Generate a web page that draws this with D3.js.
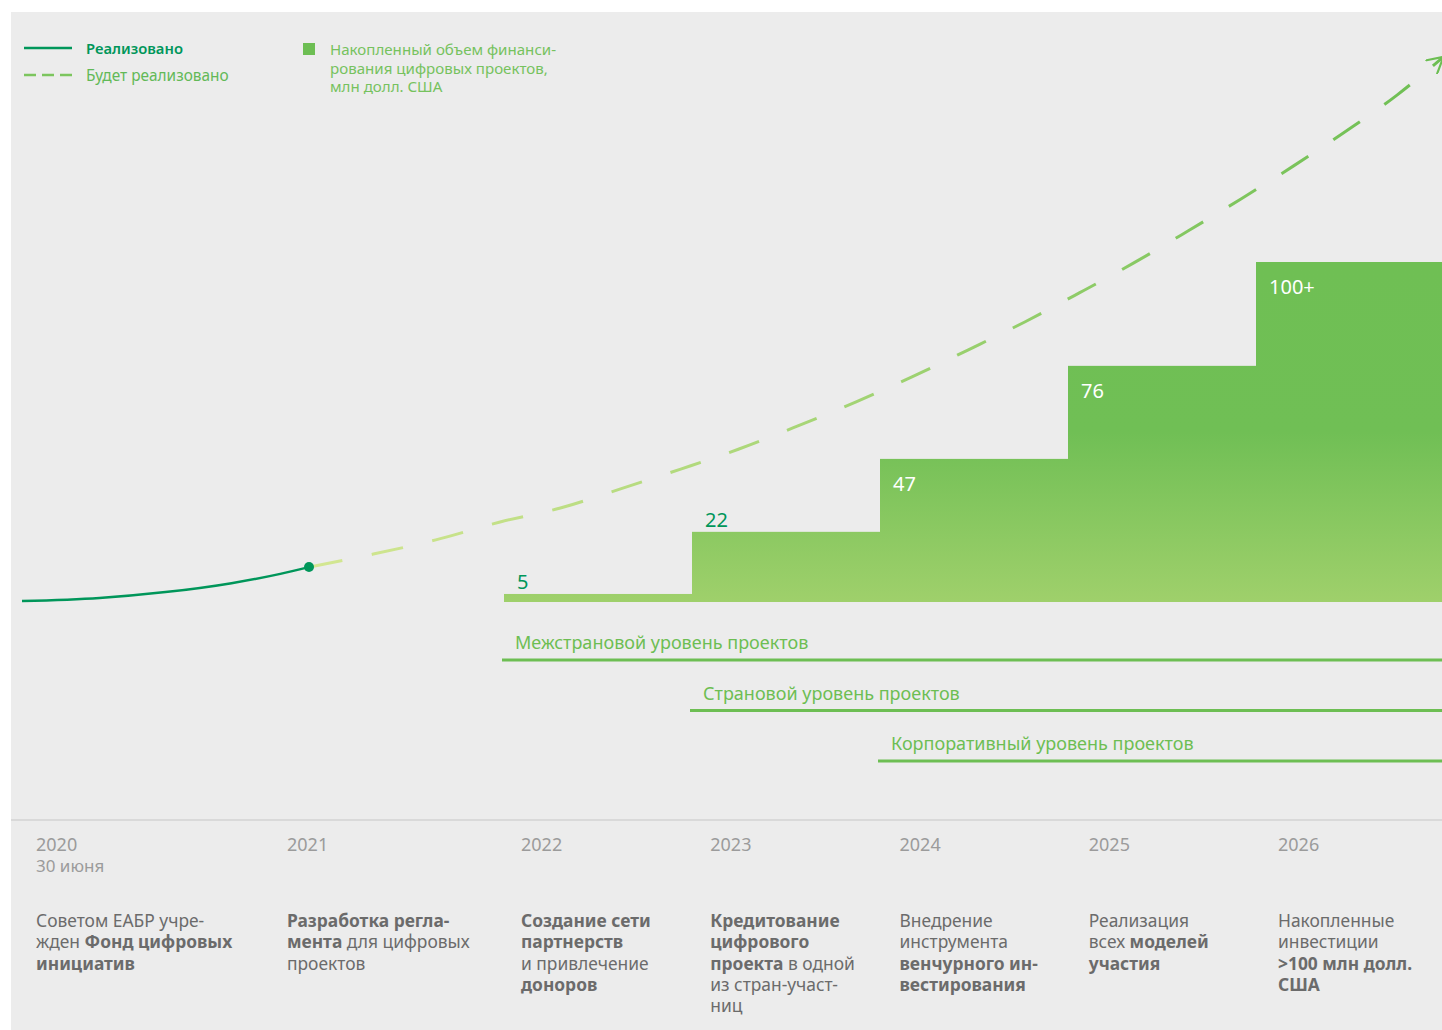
<!DOCTYPE html>
<html>
<head>
<meta charset="utf-8">
<script src="https://cdn.jsdelivr.net/npm/d3@7"></script>
<style>
  body { margin: 0; background: #ffffff; }
  svg text { font-family: "Noto Sans", sans-serif; }
</style>
</head>
<body>
<div id="my_dataviz"></div>
<script>

// data
var barYears  = [2022, 2023, 2024, 2025, 2026];
var barValues = [2.6, 22.7, 46.3, 76.4, 110];
var barLabels = ["5", "22", "47", "76", "100+"];

// realized part of the trend (year, value)
var doneYears  = [2020, 2020.27, 2020.5, 2020.73, 2020.9, 2021];
var doneValues = [0.3, 1.3, 3.2, 6.1, 9.1, 11.3];

// planned part of the trend
var planYears  = [2021, 2021.33, 2021.65, 2021.98, 2022.3, 2022.62, 2022.94, 2023.25, 2023.56, 2023.87,
                  2024.17, 2024.47, 2024.77, 2025.06, 2025.35, 2025.64, 2025.92, 2026.2, 2026.48, 2026.75, 2026.99];
var planValues = [11.3, 15.5, 20.1, 25.9, 30.4, 36.6, 43.0, 49.5, 56.9, 64.7,
                  72.8, 81.6, 90.6, 100.0, 109.7, 120.1, 130.4, 141.1, 152.4, 164.0, 176.0];

// project levels
var levelNames  = ["Межстрановой уровень проектов", "Страновой уровень проектов", "Корпоративный уровень проектов"];
var levelStarts = [2022, 2023, 2024];

// timeline columns
var stageYears = ["2020", "2021", "2022", "2023", "2024", "2025", "2026"];
var stageDates = ["30 июня", "", "", "", "", "", ""];
// each line is a list of [text, bold]
var stageTexts = [
  [[["Советом ЕАБР учре-", 0]], [["жден ", 0], ["Фонд цифровых", 1]], [["инициатив", 1]]],
  [[["Разработка регла-", 1]], [["мента", 1], [" для цифровых", 0]], [["проектов", 0]]],
  [[["Создание сети", 1]], [["партнерств", 1]], [["и привлечение", 0]], [["доноров", 1]]],
  [[["Кредитование", 1]], [["цифрового", 1]], [["проекта", 1], [" в одной", 0]], [["из стран-участ-", 0]], [["ниц", 0]]],
  [[["Внедрение", 0]], [["инструмента", 0]], [["венчурного ин-", 1]], [["вестирования", 1]]],
  [[["Реализация", 0]], [["всех ", 0], ["моделей", 1]], [["участия", 1]]],
  [[["Накопленные", 0]], [["инвестиции", 0]], [[">100 млн долл.", 1]], [["США", 1]]]
];

var W = 1442, H = 1030;

var svg = d3.select("#my_dataviz")
  .append("svg")
    .attr("width", W)
    .attr("height", H);

// grey panel
svg.append("rect")
  .attr("x", 11).attr("y", 12)
  .attr("width", W - 11).attr("height", H - 12)
  .attr("fill", "#ececec");

// scales
var x = d3.scaleLinear()
  .domain([2020, 2021, 2022, 2027])
  .range([22, 309, 504, 1444]);
var y = d3.scaleLinear()
  .domain([0, 110])
  .range([602, 262]);
var colX = d3.scaleLinear()
  .domain([2020, 2021, 2022, 2026])
  .range([36, 287, 521, 1278]);

var defs = svg.append("defs");

var barGrad = defs.append("linearGradient")
  .attr("id", "barGrad")
  .attr("gradientUnits", "userSpaceOnUse")
  .attr("x1", 0).attr("x2", 0)
  .attr("y1", y(110)).attr("y2", y(0));
barGrad.append("stop").attr("offset", 0).attr("stop-color", "#6fbf54");
barGrad.append("stop").attr("offset", 0.5).attr("stop-color", "#70bf55");
barGrad.append("stop").attr("offset", 1).attr("stop-color", "#9fd06b");

var lineGrad = defs.append("linearGradient")
  .attr("id", "lineGrad")
  .attr("gradientUnits", "userSpaceOnUse")
  .attr("x1", x(2021)).attr("x2", x(2027))
  .attr("y1", 0).attr("y2", 0);
lineGrad.append("stop").attr("offset", 0).attr("stop-color", "#d4e792");
lineGrad.append("stop").attr("offset", 0.45).attr("stop-color", "#a6d576");
lineGrad.append("stop").attr("offset", 1).attr("stop-color", "#6cbe52");

defs.append("marker")
  .attr("id", "arrow")
  .attr("viewBox", "0 0 10 10")
  .attr("refX", 8).attr("refY", 5)
  .attr("markerWidth", 6).attr("markerHeight", 6)
  .attr("markerUnits", "strokeWidth")
  .attr("orient", "auto")
  .append("path")
    .attr("d", "M0,0 L9,5 L0,10")
    .attr("fill", "none")
    .attr("stroke", "#6cbe52")
    .attr("stroke-width", 1.2);

// bars
var bars = barYears.map(function(d, i) { return {year: d, value: barValues[i], label: barLabels[i]}; });

svg.selectAll(".bar")
  .data(bars)
  .enter()
  .append("rect")
    .attr("class", "bar")
    .attr("x", function(d) { return x(d.year); })
    .attr("y", function(d) { return y(d.value); })
    .attr("width", function(d) { return x(d.year + 1) - x(d.year) + 0.5; })
    .attr("height", function(d) { return y(0) - y(d.value); })
    .attr("fill", "url(#barGrad)");

svg.selectAll(".barLabel")
  .data(bars)
  .enter()
  .append("text")
    .attr("class", "barLabel")
    .attr("x", function(d) { return x(d.year) + 13; })
    .attr("y", function(d) { return d.value > 30 ? y(d.value) + 32 : y(d.value) - 5; })
    .attr("fill", function(d) { return d.value > 30 ? "#ffffff" : "#00965a"; })
    .style("font-size", "20px")
    .text(function(d) { return d.label; });

// trend lines
var line = d3.line()
  .x(function(d) { return x(d[0]); })
  .y(function(d) { return y(d[1]); })
  .curve(d3.curveMonotoneX);

svg.append("path")
  .datum(planYears.map(function(d, i) { return [d, planValues[i]]; }))
  .attr("d", line)
  .attr("fill", "none")
  .attr("stroke", "url(#lineGrad)")
  .attr("stroke-width", 3)
  .attr("stroke-dasharray", "32,30")
  .attr("stroke-dashoffset", -2)
  .attr("marker-end", "url(#arrow)");

svg.append("path")
  .datum(doneYears.map(function(d, i) { return [d, doneValues[i]]; }))
  .attr("d", line)
  .attr("fill", "none")
  .attr("stroke", "#00965a")
  .attr("stroke-width", 2.5);

svg.append("circle")
  .attr("cx", x(2021))
  .attr("cy", y(11.3))
  .attr("r", 5)
  .attr("fill", "#00965a");

// project levels
var levels = levelNames.map(function(d, i) { return {name: d, start: levelStarts[i], row: i}; });
var levelY = function(d) { return 660 + d.row * 50.5; };

svg.selectAll(".levelLine")
  .data(levels)
  .enter()
  .append("line")
    .attr("x1", function(d) { return x(d.start) - 2; })
    .attr("x2", W)
    .attr("y1", levelY)
    .attr("y2", levelY)
    .attr("stroke", "#6dbe53")
    .attr("stroke-width", 3);

svg.selectAll(".levelText")
  .data(levels)
  .enter()
  .append("text")
    .attr("x", function(d) { return x(d.start) + 11; })
    .attr("y", function(d) { return levelY(d) - 11; })
    .attr("fill", "#6dbe53")
    .style("font-size", "18px")
    .text(function(d) { return d.name; });

// legend
svg.append("line")
  .attr("x1", 24).attr("x2", 72).attr("y1", 48).attr("y2", 48)
  .attr("stroke", "#00965a").attr("stroke-width", 2.5);
svg.append("text")
  .attr("x", 86).attr("y", 54)
  .attr("fill", "#00965a")
  .style("font-size", "14.8px").style("font-weight", 600)
  .text("Реализовано");
svg.append("line")
  .attr("x1", 24).attr("x2", 72).attr("y1", 75).attr("y2", 75)
  .attr("stroke", "#7cc55e").attr("stroke-width", 2.5)
  .attr("stroke-dasharray", "12,6");
svg.append("text")
  .attr("x", 86).attr("y", 81)
  .attr("fill", "#62b957")
  .style("font-size", "15.4px")
  .text("Будет реализовано");

svg.append("rect")
  .attr("x", 303).attr("y", 43).attr("width", 12).attr("height", 12)
  .attr("fill", "#6dbe53");
var legendLines = ["Накопленный объем финанси-", "рования цифровых проектов,", "млн долл. США"];
svg.selectAll(".legendText")
  .data(legendLines)
  .enter()
  .append("text")
    .attr("x", 330)
    .attr("y", function(d, i) { return 55 + i * 18.7; })
    .attr("fill", "#76c25e")
    .style("font-size", "15.1px")
    .text(function(d) { return d; });

// timeline
svg.append("line")
  .attr("x1", 11).attr("x2", W).attr("y1", 820).attr("y2", 820)
  .attr("stroke", "#d9d9d9").attr("stroke-width", 2);

var stages = svg.selectAll(".stage")
  .data(stageYears)
  .enter()
  .append("g")
    .attr("class", "stage")
    .attr("transform", function(d) { return "translate(" + colX(+d) + ",0)"; });

stages.append("text")
  .attr("y", 851)
  .attr("fill", "#9b9b9b")
  .style("font-size", "18px")
  .text(function(d) { return d; });

stages.append("text")
  .attr("y", 872)
  .attr("fill", "#9b9b9b")
  .style("font-size", "17px")
  .text(function(d, i) { return stageDates[i]; });

stages.each(function(d, i) {
  var g = d3.select(this);
  stageTexts[i].forEach(function(row, j) {
    var t = g.append("text")
      .attr("y", 927 + j * 21.3)
      .attr("fill", "#6b6b6b")
      .style("font-size", "17.4px");
    row.forEach(function(part) {
      t.append("tspan")
        .style("font-weight", part[1] ? 700 : 400)
        .attr("xml:space", "preserve")
        .text(part[0]);
    });
  });
});

</script>
</body>
</html>
